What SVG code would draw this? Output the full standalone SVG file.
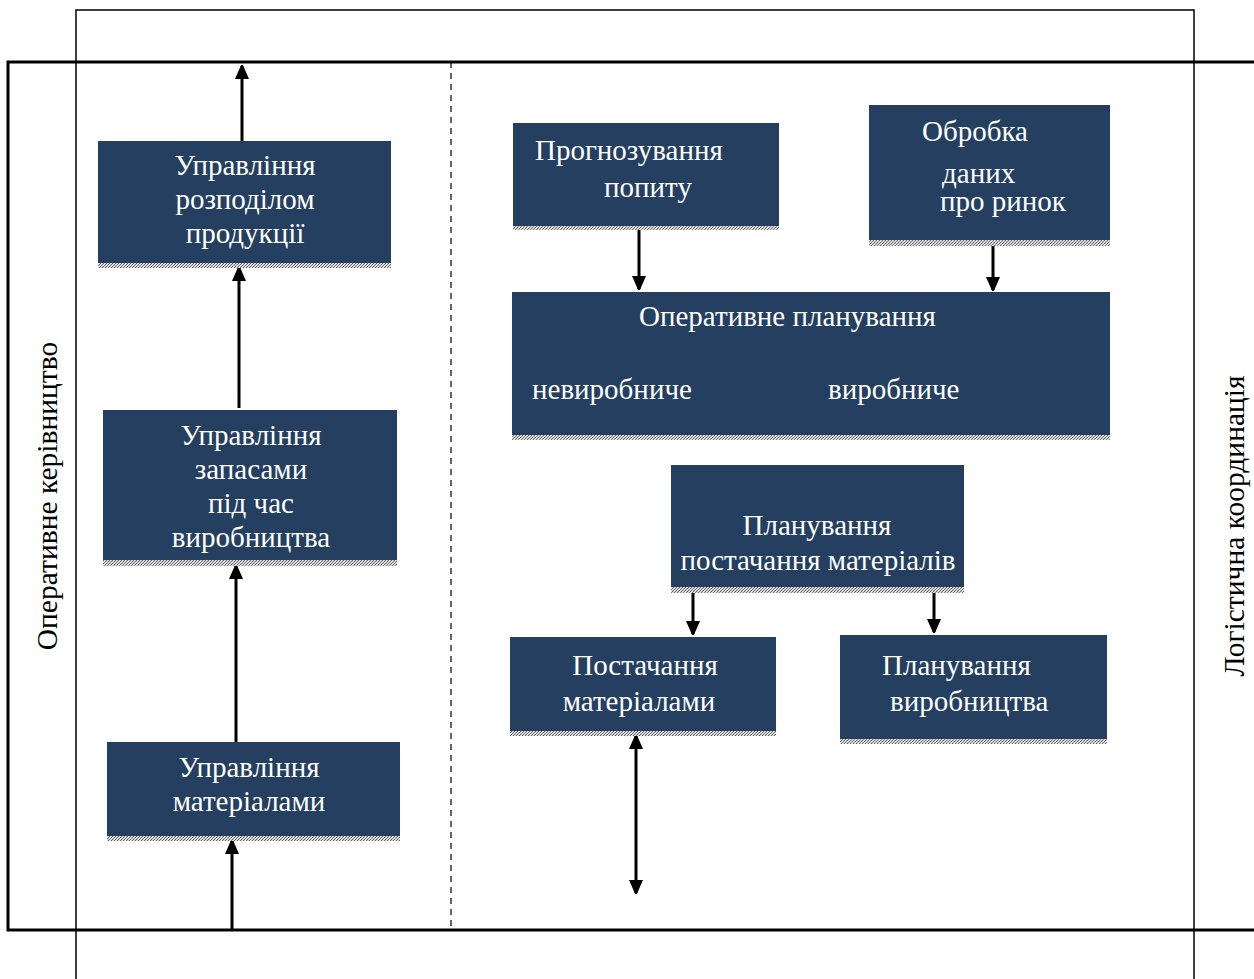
<svg xmlns="http://www.w3.org/2000/svg" width="1254" height="979" viewBox="0 0 1254 979">
<style>
.box{fill:#243f60}
.hatch{fill:url(#hp)}
.t{font-family:"Liberation Serif","Times New Roman",serif;font-size:29px;fill:#ffffff}
.c{text-anchor:middle}
.side{font-family:"Liberation Serif","Times New Roman",serif;font-size:29.5px;fill:#000000;text-anchor:middle}
.con{stroke:#000;stroke-width:3;fill:none}
</style>
<defs>
<pattern id="hp" width="3" height="3" patternUnits="userSpaceOnUse">
<rect width="3" height="3" fill="#dcdcdc"/>
<rect x="0" y="0" width="1" height="1" fill="#5e5e5e"/>
<rect x="2" y="1" width="1" height="1" fill="#7a7a7a"/>
<rect x="1" y="2" width="1" height="1" fill="#5e5e5e"/>
</pattern>
<marker id="ah" viewBox="0 0 14 16" refX="13" refY="7" markerWidth="14" markerHeight="16" markerUnits="userSpaceOnUse" orient="auto-start-reverse">
<path d="M0,0 L16,7 L0,14 Z" fill="#000"/>
</marker>
</defs>
<rect width="1254" height="979" fill="#ffffff"/>
<g id="frames">
<path d="M76,979 V10 H1194 V979" fill="none" stroke="#000" stroke-width="1.5"/>
<path d="M1254,62 H8 V930 H1254" fill="none" stroke="#000" stroke-width="3"/>
<line x1="451" y1="62" x2="451" y2="930" stroke="#000" stroke-width="1.2" stroke-dasharray="6,5"/>
<text class="side" transform="translate(57,496) rotate(-90)">Оперативне керівництво</text>
<text class="side" transform="translate(1244,526) rotate(-90)">Логістична координація</text>
</g>
<g id="connectors">
<line class="con" x1="242" y1="141" x2="242" y2="66" marker-end="url(#ah)"/>
<line class="con" x1="239" y1="408" x2="239" y2="268" marker-end="url(#ah)"/>
<line class="con" x1="236" y1="742" x2="236" y2="566" marker-end="url(#ah)"/>
<line class="con" x1="232" y1="930" x2="232" y2="841" marker-end="url(#ah)"/>
<line class="con" x1="639" y1="230" x2="639" y2="289" marker-end="url(#ah)"/>
<line class="con" x1="993" y1="246" x2="993" y2="290" marker-end="url(#ah)"/>
<line class="con" x1="693" y1="593" x2="693" y2="634" marker-end="url(#ah)"/>
<line class="con" x1="934" y1="593" x2="934" y2="632" marker-end="url(#ah)"/>
<line class="con" x1="636" y1="736" x2="636" y2="893" marker-start="url(#ah)" marker-end="url(#ah)"/>
</g>
<g id="n1">
<rect class="box" x="98" y="141" width="293" height="122"/>
<rect class="hatch" x="98" y="263" width="293" height="5"/>
<text class="t c" x="245" y="175">Управління</text>
<text class="t c" x="245" y="209">розподілом</text>
<text class="t c" x="245" y="243">продукції</text>
</g>
<g id="n2">
<rect class="box" x="103" y="410" width="294" height="150"/>
<rect class="hatch" x="103" y="560" width="294" height="6"/>
<text class="t c" x="251" y="445">Управління</text>
<text class="t c" x="251" y="479">запасами</text>
<text class="t c" x="251" y="513">під час</text>
<text class="t c" x="251" y="547">виробництва</text>
</g>
<g id="n3">
<rect class="box" x="107" y="742" width="293" height="94"/>
<rect class="hatch" x="107" y="836" width="293" height="5"/>
<text class="t c" x="249" y="777">Управління</text>
<text class="t c" x="249" y="811">матеріалами</text>
</g>
<g id="n4">
<rect class="box" x="513" y="123" width="266" height="103"/>
<rect class="hatch" x="513" y="226" width="266" height="4"/>
<text class="t" x="535" y="160">Прогнозування</text>
<text class="t c" x="648" y="197">попиту</text>
</g>
<g id="n5">
<rect class="box" x="869" y="105" width="241" height="135"/>
<rect class="hatch" x="869" y="240" width="241" height="6"/>
<text class="t" x="922" y="141">Обробка</text>
<text class="t" x="942" y="183">даних</text>
<text class="t" x="940" y="211">про ринок</text>
</g>
<g id="n6">
<rect class="box" x="512" y="292" width="598" height="143"/>
<rect class="hatch" x="512" y="435" width="598" height="5"/>
<text class="t" x="639" y="326">Оперативне планування</text>
<text class="t" x="532" y="399">невиробниче</text>
<text class="t" x="828" y="399">виробниче</text>
</g>
<g id="n7">
<rect class="box" x="671" y="465" width="293" height="122"/>
<rect class="hatch" x="671" y="587" width="293" height="6"/>
<text class="t c" x="817" y="535">Планування</text>
<text class="t c" x="818" y="570">постачання матеріалів</text>
</g>
<g id="n8">
<rect class="box" x="510" y="637" width="266" height="94"/>
<rect class="hatch" x="510" y="731" width="266" height="5"/>
<text class="t c" x="645" y="675">Постачання</text>
<text class="t c" x="639" y="711">матеріалами</text>
</g>
<g id="n9">
<rect class="box" x="840" y="635" width="267" height="104"/>
<rect class="hatch" x="840" y="739" width="267" height="5"/>
<text class="t" x="882" y="675">Планування</text>
<text class="t" x="890" y="711">виробництва</text>
</g>
</svg>
